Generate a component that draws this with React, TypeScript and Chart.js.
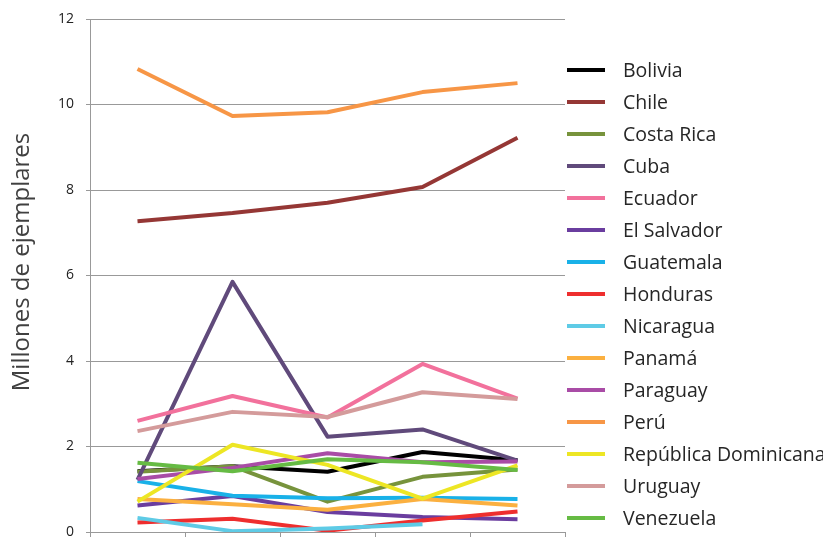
import React, { useEffect, useRef } from "react";
import { Chart, registerables } from "chart.js";

Chart.register(...registerables);

const categories = ["1", "2", "3", "4", "5"];

const countries = [
  "Bolivia",
  "Chile",
  "Costa Rica",
  "Cuba",
  "Ecuador",
  "El Salvador",
  "Guatemala",
  "Honduras",
  "Nicaragua",
  "Panamá",
  "Paraguay",
  "Perú",
  "República Dominicana",
  "Uruguay",
  "Venezuela",
];

const bolivia = [1.42, 1.54, 1.41, 1.87, 1.68];
const chile = [7.27, 7.46, 7.7, 8.07, 9.22];
const costaRica = [1.41, 1.54, 0.71, 1.29, 1.46];
const cuba = [1.22, 5.85, 2.23, 2.4, 1.67];
const ecuador = [2.6, 3.18, 2.68, 3.93, 3.12];
const elSalvador = [0.62, 0.84, 0.47, 0.35, 0.3];
const guatemala = [1.19, 0.85, 0.79, 0.8, 0.77];
const honduras = [0.22, 0.31, 0.03, 0.27, 0.48];
const nicaragua = [0.33, 0.02, 0.08, 0.18, null];
const panama = [0.77, 0.65, 0.52, 0.77, 0.62];
const paraguay = [1.24, 1.5, 1.84, 1.63, 1.65];
const peru = [10.83, 9.73, 9.82, 10.29, 10.5];
const repDominicana = [0.71, 2.04, 1.57, 0.78, 1.56];
const uruguay = [2.36, 2.81, 2.69, 3.27, 3.11];
const venezuela = [1.62, 1.42, 1.7, 1.63, 1.45];

const seriesValues = [
  bolivia,
  chile,
  costaRica,
  cuba,
  ecuador,
  elSalvador,
  guatemala,
  honduras,
  nicaragua,
  panama,
  paraguay,
  peru,
  repDominicana,
  uruguay,
  venezuela,
];

const colors = [
  "#000000",
  "#953735",
  "#77933c",
  "#604a7b",
  "#f2719c",
  "#6a3d9f",
  "#19b1e8",
  "#ee2e2e",
  "#5ecbe6",
  "#fbb040",
  "#a94ca6",
  "#f79646",
  "#ede624",
  "#d49b9b",
  "#66bb44",
];

const yTicks = [0, 2, 4, 6, 8, 10, 12];
const yTitle = "Millones de ejemplares";

const FONT = '"Open Sans", "DejaVu Sans", sans-serif';

const sideLegend = {
  id: "sideLegend",
  afterDraw(chart: any) {
    const { ctx, chartArea } = chart;
    ctx.save();
    chart.data.datasets.forEach((ds: any, i: number) => {
      const y = 70 + i * 32;
      ctx.strokeStyle = ds.borderColor;
      ctx.lineWidth = 4;
      ctx.lineCap = "butt";
      ctx.beginPath();
      ctx.moveTo(chartArea.right + 2, y);
      ctx.lineTo(chartArea.right + 40, y);
      ctx.stroke();
      ctx.fillStyle = "#262626";
      ctx.font = `19.5px ${FONT}`;
      ctx.textBaseline = "middle";
      ctx.textAlign = "left";
      ctx.fillText(ds.label, chartArea.right + 58, y + 1);
    });
    // y axis title
    ctx.translate(22, 262);
    ctx.rotate(-Math.PI / 2);
    ctx.fillStyle = "#404040";
    ctx.font = `24px ${FONT}`;
    ctx.textAlign = "center";
    ctx.textBaseline = "middle";
    ctx.fillText(yTitle, 0, 0);
    ctx.restore();
  },
};

export default function App() {
  const ref = useRef<HTMLCanvasElement | null>(null);

  useEffect(() => {
    document.body.style.margin = "0";
    document.body.style.overflow = "hidden";
    if (!ref.current) return;
    const chart = new Chart(ref.current, {
      type: "line",
      data: {
        labels: categories,
        datasets: countries.map((name, i) => ({
          label: name,
          data: seriesValues[i],
          borderColor: colors[i],
          backgroundColor: colors[i],
          borderWidth: 4,
          pointRadius: 0,
          tension: 0,
          spanGaps: false,
          borderJoinStyle: "round" as const,
          order: countries.length - i,
        })),
      },
      options: {
        animation: false,
        responsive: true,
        maintainAspectRatio: false,
        layout: { padding: { top: 19, right: 258, bottom: 0, left: 0 } },
        plugins: {
          legend: { display: false },
          tooltip: { enabled: false },
        },
        scales: {
          x: {
            offset: true,
            afterFit(scale: any) {
              scale.height = 5;
              scale.paddingLeft = 0;
              scale.paddingRight = 0;
            },
            grid: {
              offset: true,
              drawOnChartArea: false,
              drawTicks: true,
              tickLength: 5,
              color: "#999999",
            },
            border: { color: "#999999" },
            ticks: { display: false },
          },
          y: {
            min: 0,
            max: 12,
            afterFit(scale: any) {
              scale.width = 90;
              scale.paddingTop = 0;
              scale.paddingBottom = 0;
            },
            afterBuildTicks(scale: any) {
              scale.ticks = yTicks.map((v) => ({ value: v }));
            },
            grid: { color: "#999999", tickLength: 4 },
            border: { color: "#999999" },
            ticks: {
              padding: 12,
              color: "#222222",
              font: { family: FONT, size: 14 },
            },
          },
        },
      },
      plugins: [sideLegend],
    });
    return () => chart.destroy();
  }, []);

  return (
    <div style={{ width: 823, height: 537, position: "relative" }}>
      <canvas ref={ref} />
    </div>
  );
}
